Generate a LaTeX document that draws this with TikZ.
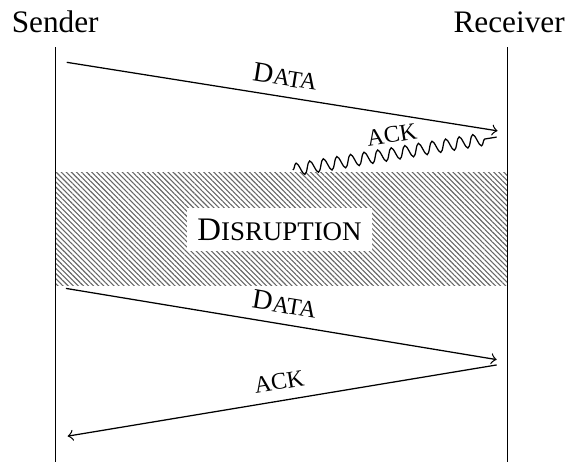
\documentclass[tikz,border=0pt]{standalone}
\usepackage{fontspec}
\setmainfont{Liberation Serif}
\usepackage{tikz}
\usetikzlibrary{decorations.pathmorphing,patterns.meta}
\newcommand{\fsc}[1]{{\fontsize{7.6}{9}\selectfont\MakeUppercase{#1}}}
\newcommand{\lbl}[2]{{\fontsize{9}{10}\selectfont #1}\fsc{#2}}

\begin{document}
\begin{tikzpicture}
        \useasboundingbox (0, 0) rectangle (6.37, -5.19);
        \node [anchor=base] (S) at (0.62, -0.36) {Sender}; 
        \node [anchor=base] (R) at (5.72, -0.36) {Receiver}; 
        \coordinate (ST) at (0.62, -0.53); 
        \coordinate (SB) at (0.62, -5.19); 
        \coordinate (RT) at (5.70, -0.53); 
        \coordinate (RB) at (5.70, -5.19); 
        \coordinate (D1) at (0.75, -0.70); 
        \coordinate (D1e) at (5.59, -1.47); 
        \coordinate (A1) at (3.29, -1.91); 
        \coordinate (A1e) at (5.58, -1.54); 
        \coordinate (D2) at (0.74, -3.24); 
        \coordinate (D2e) at (5.58, -4.04); 
        \coordinate (A2) at (5.58, -4.10); 
        \coordinate (A2e) at (0.76, -4.90); 
        % disruption
        \fill [pattern={Lines[angle=-45,distance=1.15pt,line width=0.35pt]}, pattern color=black!60] 
              (0.62, -1.94) rectangle (5.70, -3.21); 
        \node [fill=white] (X) at (3.14, -2.58) {{\fontsize{10.5}{12}\selectfont D}{\fontsize{8.6}{10}\selectfont ISRUPTION}}; 
        \draw (ST) -- (SB); 
        \draw (RT) -- (RB); 
        \draw [->] (D1) -- node [above, sloped] {\lbl{D}{ata}} (D1e); 
        \draw [decorate, decoration={snake, segment length=4.4pt, amplitude=2pt, post length=3pt}] 
              (A1) -- node [above, sloped] {\fsc{ack}} (A1e); 
        \draw [->] (D2) -- node [above, sloped] {\lbl{D}{ata}} (D2e); 
        \draw [->] (A2) -- node [above, sloped] {\fsc{ack}} (A2e); 
\end{tikzpicture}
\end{document}
